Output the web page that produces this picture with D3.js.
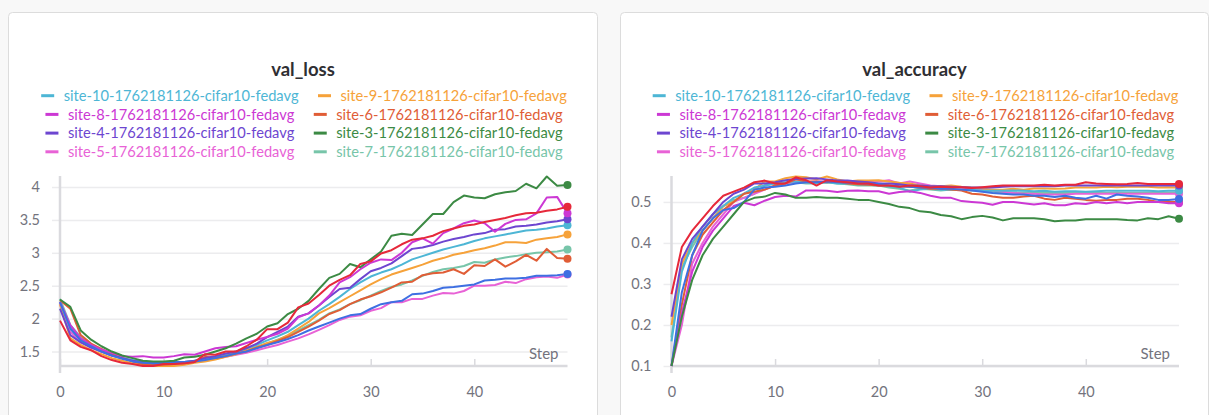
<!DOCTYPE html>
<html>
<head>
<meta charset="utf-8">
<script src="https://cdn.jsdelivr.net/npm/d3@7"></script>
<style>
html,body{margin:0;padding:0;background:#f8f8f8;}
svg{display:block;font-family:Lato,"Noto Sans",sans-serif;}
</style>
</head>
<body>
<svg id="c" width="1209" height="415"></svg>
<script>
// ---------- data ----------
const steps = d3.range(0, 50);
const siteNames = ["site-10","site-9","site-8","site-6","site-4","site-3","site-5","site-7","site-1","site-2"];
const runSuffix = "-1762181126-cifar10-fedavg";
const siteColors = ["#4db6d5","#f6a23a","#cc38d4","#e05d36","#6d46d0","#3c8a44","#e862d6","#77c5a9","#e6283a","#3e6fe2"];
const legendCount = 8;

const lossSite10 = [2.25,1.85,1.67,1.58,1.52,1.45,1.4,1.37,1.34,1.32,1.33,1.33,1.34,1.36,1.38,1.42,1.46,1.5,1.55,1.6,1.67,1.73,1.8,1.9,2.0,2.12,2.22,2.33,2.45,2.55,2.64,2.7,2.75,2.82,2.9,2.95,3.0,3.05,3.09,3.13,3.18,3.22,3.25,3.28,3.31,3.34,3.35,3.37,3.4,3.42];
const lossSite9 = [2.22,1.7,1.6,1.52,1.46,1.4,1.36,1.32,1.3,1.28,1.28,1.28,1.3,1.33,1.35,1.38,1.42,1.46,1.52,1.57,1.63,1.67,1.75,1.85,1.95,2.08,2.16,2.25,2.34,2.43,2.52,2.6,2.67,2.72,2.77,2.82,2.88,2.92,2.97,3.0,3.04,3.07,3.11,3.16,3.16,3.15,3.2,3.22,3.24,3.28];
const lossSite8 = [2.25,1.9,1.7,1.6,1.53,1.48,1.43,1.42,1.43,1.41,1.41,1.43,1.46,1.45,1.5,1.55,1.57,1.58,1.63,1.68,1.72,1.77,1.85,2.02,2.08,2.2,2.35,2.55,2.63,2.75,2.85,2.9,2.89,3.0,3.16,3.22,3.14,3.3,3.37,3.45,3.49,3.45,3.32,3.44,3.5,3.51,3.6,3.84,3.85,3.6];
const lossSite6 = [2.28,2.15,1.75,1.62,1.54,1.46,1.4,1.35,1.31,1.3,1.3,1.31,1.32,1.34,1.42,1.4,1.43,1.47,1.5,1.56,1.6,1.66,1.72,1.8,1.88,1.97,2.07,2.13,2.22,2.29,2.34,2.4,2.47,2.55,2.56,2.66,2.69,2.7,2.75,2.68,2.81,2.8,2.9,2.79,2.87,2.97,2.88,3.06,2.92,2.91];
const lossSite4 = [2.15,1.75,1.64,1.56,1.5,1.44,1.4,1.36,1.34,1.32,1.33,1.33,1.34,1.36,1.4,1.43,1.47,1.5,1.55,1.62,1.72,1.8,1.88,2.03,2.08,2.2,2.33,2.45,2.47,2.6,2.72,2.77,2.84,2.95,3.06,3.08,3.12,3.17,3.21,3.24,3.28,3.3,3.35,3.36,3.4,3.41,3.43,3.46,3.48,3.51];
const lossSite3 = [2.29,2.18,1.82,1.68,1.58,1.5,1.44,1.4,1.36,1.35,1.35,1.36,1.41,1.42,1.45,1.5,1.55,1.62,1.7,1.77,1.88,1.93,2.07,2.15,2.27,2.45,2.62,2.68,2.83,2.78,2.9,3.02,3.26,3.29,3.27,3.43,3.59,3.59,3.77,3.87,3.84,3.83,3.89,3.92,3.94,4.05,3.98,4.16,4.02,4.03];
const lossSite5 = [2.22,1.8,1.65,1.56,1.5,1.44,1.4,1.36,1.34,1.33,1.33,1.33,1.34,1.35,1.37,1.39,1.42,1.45,1.48,1.52,1.56,1.6,1.65,1.7,1.76,1.83,1.9,1.98,2.03,2.05,2.12,2.16,2.25,2.25,2.3,2.3,2.35,2.39,2.38,2.42,2.5,2.5,2.51,2.56,2.54,2.6,2.63,2.64,2.62,2.67];
const lossSite7 = [2.3,1.9,1.72,1.6,1.52,1.45,1.4,1.35,1.32,1.3,1.31,1.32,1.33,1.35,1.37,1.4,1.44,1.48,1.52,1.57,1.62,1.68,1.74,1.82,1.9,1.98,2.08,2.14,2.22,2.28,2.35,2.42,2.48,2.52,2.58,2.65,2.71,2.75,2.77,2.8,2.86,2.85,2.9,2.93,2.95,2.98,3.0,3.01,3.02,3.05];
const lossSite1 = [1.97,1.67,1.57,1.52,1.43,1.37,1.33,1.31,1.28,1.28,1.31,1.31,1.32,1.34,1.46,1.45,1.5,1.5,1.58,1.68,1.84,1.84,1.94,2.17,2.23,2.36,2.5,2.59,2.66,2.83,2.87,2.99,3.04,3.13,3.2,3.22,3.26,3.33,3.37,3.41,3.43,3.47,3.5,3.53,3.57,3.6,3.61,3.64,3.66,3.7];
const lossSite2 = [2.25,1.85,1.67,1.58,1.5,1.44,1.39,1.35,1.33,1.32,1.33,1.34,1.34,1.35,1.37,1.4,1.43,1.47,1.5,1.55,1.6,1.64,1.69,1.75,1.82,1.88,1.94,2.0,2.05,2.07,2.15,2.22,2.25,2.27,2.37,2.38,2.42,2.47,2.48,2.5,2.52,2.58,2.59,2.61,2.61,2.62,2.65,2.65,2.66,2.68];

const accSite10 = [0.16,0.33,0.4,0.44,0.47,0.49,0.51,0.52,0.535,0.54,0.545,0.548,0.55,0.548,0.547,0.548,0.545,0.545,0.543,0.542,0.54,0.538,0.535,0.525,0.53,0.532,0.53,0.53,0.53,0.53,0.528,0.527,0.527,0.528,0.527,0.526,0.527,0.525,0.526,0.526,0.525,0.526,0.527,0.527,0.527,0.527,0.527,0.526,0.527,0.527];
const accSite9 = [0.2,0.35,0.4,0.43,0.46,0.49,0.5,0.52,0.53,0.55,0.55,0.558,0.562,0.56,0.555,0.562,0.555,0.55,0.552,0.552,0.553,0.55,0.547,0.545,0.54,0.538,0.538,0.54,0.537,0.535,0.533,0.53,0.53,0.532,0.53,0.533,0.533,0.532,0.533,0.535,0.535,0.535,0.537,0.536,0.537,0.537,0.537,0.535,0.536,0.535];
const accSite8 = [0.1,0.23,0.33,0.39,0.43,0.46,0.49,0.498,0.492,0.503,0.512,0.515,0.513,0.528,0.528,0.527,0.524,0.527,0.528,0.526,0.526,0.52,0.524,0.526,0.522,0.515,0.51,0.51,0.502,0.5,0.498,0.493,0.5,0.5,0.497,0.494,0.497,0.492,0.492,0.497,0.495,0.5,0.497,0.5,0.497,0.5,0.5,0.5,0.497,0.497];
const accSite6 = [0.1,0.25,0.37,0.42,0.45,0.48,0.5,0.52,0.525,0.53,0.54,0.545,0.555,0.55,0.55,0.548,0.55,0.545,0.543,0.542,0.54,0.54,0.538,0.537,0.535,0.532,0.532,0.53,0.528,0.52,0.518,0.513,0.51,0.51,0.513,0.515,0.508,0.505,0.51,0.508,0.505,0.503,0.505,0.505,0.508,0.508,0.505,0.5,0.5,0.5];
const accSite4 = [0.22,0.36,0.41,0.44,0.47,0.5,0.52,0.53,0.545,0.545,0.548,0.553,0.556,0.557,0.558,0.555,0.552,0.552,0.55,0.548,0.545,0.545,0.543,0.54,0.54,0.538,0.538,0.537,0.536,0.535,0.535,0.535,0.537,0.538,0.538,0.538,0.538,0.538,0.54,0.54,0.54,0.54,0.54,0.54,0.54,0.54,0.54,0.54,0.54,0.54];
const accSite3 = [0.1,0.22,0.31,0.37,0.41,0.44,0.47,0.5,0.51,0.513,0.522,0.518,0.51,0.51,0.512,0.51,0.51,0.508,0.505,0.505,0.5,0.495,0.488,0.485,0.477,0.475,0.468,0.465,0.458,0.463,0.466,0.462,0.455,0.46,0.46,0.46,0.458,0.453,0.455,0.455,0.458,0.458,0.458,0.458,0.456,0.455,0.46,0.458,0.465,0.459];
const accSite5 = [0.1,0.2,0.35,0.4,0.44,0.47,0.5,0.51,0.52,0.53,0.54,0.545,0.55,0.548,0.55,0.55,0.55,0.548,0.55,0.55,0.55,0.553,0.545,0.55,0.545,0.54,0.538,0.535,0.535,0.532,0.53,0.528,0.525,0.522,0.52,0.52,0.518,0.518,0.518,0.52,0.52,0.52,0.52,0.52,0.52,0.52,0.52,0.52,0.52,0.52];
const accSite7 = [0.17,0.34,0.39,0.43,0.46,0.49,0.505,0.51,0.52,0.54,0.545,0.547,0.548,0.545,0.545,0.548,0.545,0.543,0.54,0.54,0.54,0.535,0.532,0.528,0.532,0.53,0.528,0.53,0.53,0.528,0.527,0.525,0.523,0.523,0.523,0.522,0.522,0.522,0.522,0.522,0.523,0.522,0.522,0.523,0.522,0.522,0.523,0.522,0.523,0.523];
const accSite1 = [0.275,0.39,0.43,0.46,0.49,0.515,0.525,0.535,0.548,0.552,0.545,0.545,0.56,0.553,0.54,0.553,0.55,0.548,0.545,0.545,0.54,0.54,0.537,0.54,0.538,0.535,0.537,0.536,0.536,0.534,0.536,0.538,0.54,0.54,0.54,0.54,0.542,0.54,0.542,0.542,0.548,0.545,0.544,0.543,0.544,0.546,0.544,0.544,0.544,0.544];
const accSite2 = [0.1,0.28,0.37,0.43,0.46,0.48,0.485,0.5,0.53,0.535,0.537,0.54,0.545,0.548,0.548,0.55,0.548,0.547,0.546,0.545,0.544,0.54,0.538,0.537,0.535,0.535,0.532,0.532,0.53,0.528,0.525,0.522,0.52,0.518,0.518,0.515,0.515,0.512,0.515,0.51,0.508,0.515,0.508,0.518,0.515,0.513,0.51,0.505,0.505,0.507];

const lossSeries = [lossSite10,lossSite9,lossSite8,lossSite6,lossSite4,lossSite3,lossSite5,lossSite7,lossSite1,lossSite2];
const accSeries = [accSite10,accSite9,accSite8,accSite6,accSite4,accSite3,accSite5,accSite7,accSite1,accSite2];

const lossTicksY = [1.5,2,2.5,3,3.5,4];
const accTicksY = [0.1,0.2,0.3,0.4,0.5];
const ticksX = [0,10,20,30,40];

// ---------- drawing ----------
const svg = d3.select("#c");
const TICK_COLOR = "#73737d";
const GRID = "#ececee";
const AXIS = "#dadade";

function panel(cfg){
  const g = svg.append("g");
  g.append("rect").attr("x",cfg.cardX0).attr("y",12.5).attr("width",cfg.cardX1-cfg.cardX0).attr("height",440)
    .attr("rx",4).attr("fill","#fff").attr("stroke","#dcdcdc").attr("stroke-width",1);
  const cx = (cfg.cardX0+cfg.cardX1)/2 + 1;
  g.append("text").attr("x",cx-1).attr("y",76).attr("text-anchor","middle")
    .attr("font-size",18.5).attr("font-weight",700).attr("fill","#2f2f33").text(cfg.title);

  const x = d3.scaleLinear().domain([0,49]).range([cfg.axisX, cfg.axisX+507.5]);
  const all = cfg.series.flat();
  const y = d3.scaleLinear().domain(d3.extent(all)).range([366,176.5]);
  const W = x.range()[1]-x.range()[0];

  const grid = g.append("g").attr("transform",`translate(${cfg.axisX},0)`)
    .call(d3.axisLeft(y).tickValues(cfg.yTicks).tickSize(-W).tickFormat(""));
  grid.select(".domain").remove();
  grid.selectAll("line").attr("stroke",GRID).attr("stroke-width",1.5);
  const ya = g.append("g").attr("transform",`translate(${cfg.axisX},0)`)
    .call(d3.axisLeft(y).tickValues(cfg.yTicks).tickSize(8).tickPadding(12).tickFormat(cfg.fmt));
  ya.select(".domain").remove();
  ya.selectAll("line").attr("stroke",GRID).attr("stroke-width",1.5);
  ya.selectAll("text").attr("fill",TICK_COLOR).attr("font-size",14.5).attr("font-family","Lato,'Noto Sans',sans-serif");
  const xa = g.append("g").attr("transform","translate(0,366)")
    .call(d3.axisBottom(x).tickValues(ticksX).tickSize(-7).tickPadding(21).tickFormat(d3.format("d")));
  xa.select(".domain").remove();
  xa.selectAll("line").attr("stroke",AXIS).attr("stroke-width",1.5);
  xa.selectAll("text").attr("fill",TICK_COLOR).attr("font-size",14.5).attr("font-family","Lato,'Noto Sans',sans-serif");
  g.append("line").attr("x1",x.range()[0]).attr("x2",x.range()[1]).attr("y1",366).attr("y2",366)
    .attr("stroke",AXIS).attr("stroke-width",2.5);
  g.append("line").attr("x1",cfg.axisX).attr("x2",cfg.axisX).attr("y1",176).attr("y2",373)
    .attr("stroke",AXIS).attr("stroke-width",2.5);
  g.append("text").attr("x",x.range()[1]-9).attr("y",359).attr("text-anchor","end")
    .attr("font-size",15).attr("fill",TICK_COLOR).text("Step");

  const line = d3.line().x((d,i)=>x(steps[i])).y(d=>y(d));
  const order = [7,6,1,0,3,4,2,9,5,8];
  order.forEach(k=>{
    g.append("path").datum(cfg.series[k]).attr("d",line).attr("fill","none")
      .attr("stroke",siteColors[k]).attr("stroke-width",2).attr("stroke-linejoin","round");
  });
  order.forEach(k=>{
    const s = cfg.series[k];
    g.append("circle").attr("cx",x(steps[s.length-1])).attr("cy",y(s[s.length-1])).attr("r",4)
      .attr("fill",siteColors[k]);
  });

  // legend: font size fitted so the first label is ~235px wide
  const lg = g.append("g");
  const probe = lg.append("text").attr("font-size",15).text(siteNames[0]+runSuffix);
  const fs = 15*235/probe.node().getComputedTextLength();
  probe.remove();
  const rowsY = [95.7,114.4,133.1,151.8];
  for(let r=0;r<legendCount/2;r++){
    const items = [2*r,2*r+1];
    const texts = items.map(k=> lg.append("text").attr("font-size",fs).attr("fill",siteColors[k])
      .attr("y",rowsY[r]+5.2).text(siteNames[k]+runSuffix));
    const widths = texts.map(t=>t.node().getComputedTextLength());
    const mW=13, mG=9.5, iG=19.5;
    const total = mW+mG+widths[0]+iG+mW+mG+widths[1];
    let px = cx - total/2;
    items.forEach((k,j)=>{
      lg.append("line").attr("x1",px).attr("x2",px+mW).attr("y1",rowsY[r]).attr("y2",rowsY[r])
        .attr("stroke",siteColors[k]).attr("stroke-width",3);
      texts[j].attr("x",px+mW+mG);
      px += mW+mG+widths[j]+iG;
    });
  }
}

panel({cardX0:8.5, cardX1:597.5, axisX:60, title:"val_loss", series:lossSeries, yTicks:lossTicksY, fmt:d3.format("~g")});
panel({cardX0:620.5, cardX1:1208.5, axisX:671.5, title:"val_accuracy", series:accSeries, yTicks:accTicksY, fmt:d3.format(".1f")});
</script>
</body>
</html>
